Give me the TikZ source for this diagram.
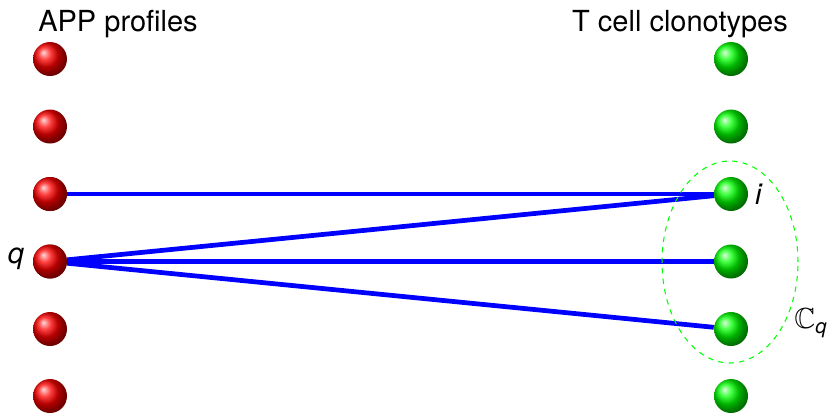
\documentclass[tikz,border=0pt]{standalone}
\usepackage{amsmath, amssymb}
\usepackage{fontspec}
\setmainfont{TeX Gyre Heros}
\usetikzlibrary{shapes.geometric, positioning}
\tikzset{
  app/.style={circle, inner sep=0pt, minimum size=0.68cm, shading=ball, ball color=red},
  clono/.style={circle, inner sep=0pt, minimum size=0.68cm, shading=ball, ball color=green},
  link/.style={draw=blue, line width=2.7pt},
  lbl/.style={font=\fontsize{16.5}{19}\selectfont}
}

\begin{document}
\begin{tikzpicture}[x=0.02cm, y=-0.02cm]
  \useasboundingbox (0,0) rectangle (830,414);
  \node[lbl, anchor=base] (apptitle) at (118,31) {APP profiles};
  \node[lbl, anchor=base] (tctitle) at (680,31) {T cell clonotypes};
  \foreach \k/\y in {1/59, 2/126.5, 3/194, 4/261.5, 5/329, 6/396} {
    \node[app] (r\k) at (50,\y) {};
    \node[clono] (g\k) at (731,\y) {};
  }
  %
  \draw[link] (r3) -- (g3);
  \draw[link] (r4) -- (g3);
  \draw[link] (r4) -- (g4);
  \draw[link] (r4) -- (g5);
  \node[app] at (r4) {};
  \node[app] at (r3) {};
  %
  \node[draw=green, dashed, line width=0.6pt, ellipse, minimum width=2.72cm, minimum height=4.04cm] (cq) at (730,262) {};
  \node[lbl] (qlbl) at (16,259) {\textit{q}};
  \node[lbl] (ilbl) at (759,194) {\textit{i}};
  \node[lbl] (cqlbl) at (811,323) {$\mathbb{C}_{\textit{q}}$};
\end{tikzpicture}
\end{document}
